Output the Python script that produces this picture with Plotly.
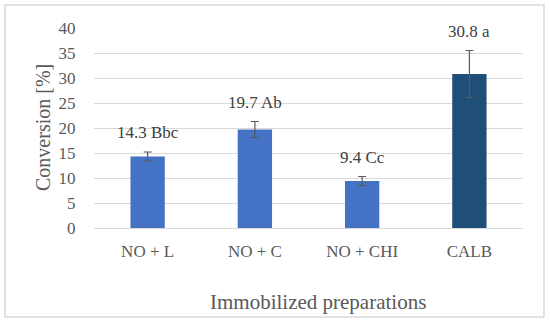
import plotly.graph_objects as go

categories = ["NO + L", "NO + C", "NO + CHI", "CALB"]
values = [14.3, 19.7, 9.4, 30.8]
errors = [0.9, 1.6, 0.9, 4.7]
labels = ["14.3 Bbc", "19.7 Ab", "9.4 Cc", "30.8 a"]
bar_colors = ["#4472C4", "#4472C4", "#4472C4", "#1F4E79"]

FONT = "Liberation Serif"
L, R, T, B = 94, 27, 28, 97
W, H = 550, 325
pw, ph = W - L - R, H - T - B

fig = go.Figure()
fig.add_trace(go.Bar(
    x=categories, y=values,
    marker=dict(color=bar_colors, line=dict(width=0)),
    width=0.32,
    error_y=dict(type="data", array=errors, visible=True,
                 color="#595959", thickness=1.2, width=4),
    hoverinfo="skip",
))

for c, v, e, t in zip(categories, values, errors, labels):
    fig.add_annotation(x=c, y=v + e, text=t, showarrow=False,
                       yanchor="bottom", yshift=8,
                       font=dict(family=FONT, size=17, color="#404040"))

# axis titles
fig.add_annotation(xref="paper", yref="paper",
                   x=(318 - L) / pw, y=(H - B - 302) / ph,
                   text="Immobilized preparations", showarrow=False,
                   xanchor="center", yanchor="middle",
                   font=dict(family=FONT, size=21, color="#595959"))
fig.add_annotation(xref="paper", yref="paper",
                   x=(43 - L) / pw, y=0.5, textangle=-90,
                   text="Conversion [%]", showarrow=False,
                   xanchor="center", yanchor="middle",
                   font=dict(family=FONT, size=20, color="#595959"))

# outer border
fig.add_shape(type="rect", xref="paper", yref="paper",
              x0=(5 - L) / pw, x1=(544 - L) / pw,
              y0=(H - B - 317) / ph, y1=(H - B - 5) / ph,
              line=dict(color="#D9D9D9", width=1.5), fillcolor="rgba(0,0,0,0)",
              layer="below")

fig.update_layout(
    width=W, height=H,
    margin=dict(l=L, r=R, t=T, b=B, autoexpand=False),
    paper_bgcolor="white", plot_bgcolor="white",
    showlegend=False,
    font=dict(family=FONT, color="#595959"),
    xaxis=dict(
        automargin=False,
        showgrid=False, showline=True, linecolor="#D9D9D9", linewidth=1,
        ticks="", tickfont=dict(family=FONT, size=17, color="#595959"),
        ticklabelstandoff=8,
    ),
    yaxis=dict(
        automargin=False,
        range=[0, 40], dtick=5, showgrid=True, gridcolor="#D9D9D9", gridwidth=1,
        zeroline=False, showline=False,
        ticks="outside", ticklen=8, tickcolor="rgba(0,0,0,0)",
        ticklabelstandoff=6,
        tickfont=dict(family=FONT, size=17, color="#595959"),
    ),
)

fig.write_html("out.html", config={"displayModeBar": False},
               post_script="document.body.style.margin='0px';")
